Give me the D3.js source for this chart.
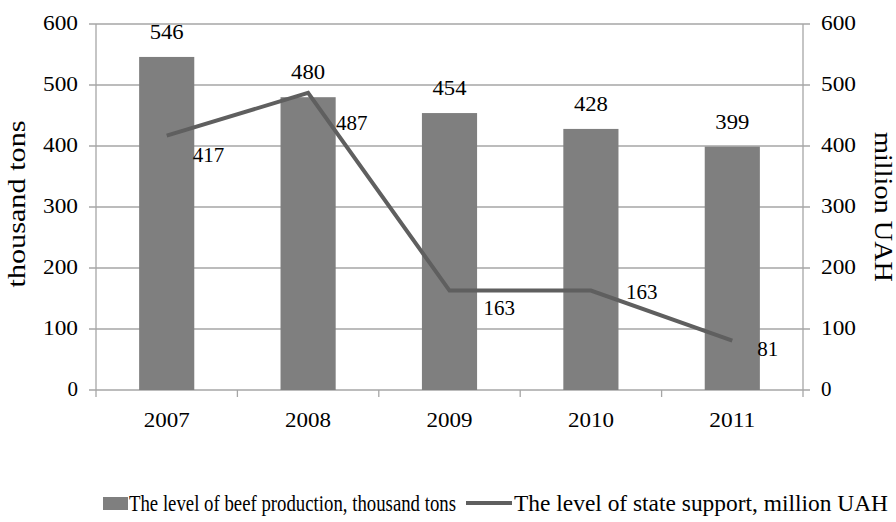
<!DOCTYPE html>
<html><head><meta charset="utf-8">
<script src="https://cdn.jsdelivr.net/npm/d3@7"></script>
<style>body{margin:0;background:#fff}svg{display:block}</style>
</head><body><svg id="c" width="896" height="522" style="font-family:'Liberation Serif','Times New Roman',Tinos,serif"></svg>
<script>
const years = ["2007","2008","2009","2010","2011"];
const production = [546, 480, 454, 428, 399];
const support = [417, 487, 163, 163, 81];
const leftTicks = [0,100,200,300,400,500,600];
const rightTicks = [0,100,200,300,400,500,600];
const seriesNames = ["The level of beef production, thousand tons","The level of state support, million UAH"];
const axisTitles = ["thousand tons","million UAH"];

const svg = d3.select("#c");
const FF = "'Liberation Serif','Times New Roman',Tinos,serif";
const L = 96, R = 803, T = 24, B = 390;
const x = d3.scaleBand().domain(years).range([L, R]).paddingInner(0.61).paddingOuter(0.305);
const xc = d3.scaleBand().domain(years).range([L, R]);
const yL = d3.scaleLinear().domain([0,600]).range([B, T]);
const yR = d3.scaleLinear().domain([0,600]).range([B, T]);
const grid = "#a6a6a6", FS = 21;
function txt(g){ return g.attr("font-family",FF).style("font-family",FF).attr("fill","#000"); }

svg.append("g").selectAll("line").data(leftTicks.filter(d=>d>0)).join("line")
  .attr("x1", L-7).attr("x2", R+7).attr("y1", d=>yL(d)).attr("y2", d=>yL(d))
  .attr("stroke", grid).attr("stroke-width", 1.3);
svg.append("line").attr("x1",L).attr("x2",L).attr("y1",T).attr("y2",B).attr("stroke",grid).attr("stroke-width",1.3);
svg.append("line").attr("x1",R).attr("x2",R).attr("y1",T).attr("y2",B).attr("stroke",grid).attr("stroke-width",1.3);
svg.append("line").attr("x1",L-7).attr("x2",R+7).attr("y1",B).attr("y2",B).attr("stroke",grid).attr("stroke-width",1.3);
svg.append("g").selectAll("line").data(years.concat(["end"])).join("line")
  .attr("x1",(d,i)=>L + i*xc.step()).attr("x2",(d,i)=>L + i*xc.step())
  .attr("y1",B).attr("y2",B+7).attr("stroke",grid).attr("stroke-width",1.3);

svg.append("g").selectAll("rect").data(production).join("rect")
  .attr("x",(d,i)=>x(years[i])).attr("width",x.bandwidth())
  .attr("y",d=>yL(d)).attr("height",d=>B-yL(d)).attr("fill","#7f7f7f");

const line = d3.line().x((d,i)=>xc(years[i])+xc.bandwidth()/2).y(d=>yR(d));
svg.append("path").datum(support).attr("d",line).attr("fill","none")
  .attr("stroke","#5f5f5f").attr("stroke-width",4);

txt(svg.append("g").selectAll("text").data(leftTicks).join("text"))
  .attr("x", L-18).attr("y", d=>yL(d)+6).attr("text-anchor","end").attr("font-size",FS)
  .attr("textLength",35).attr("lengthAdjust","spacingAndGlyphs")
  .each(function(d){ if(d===0) d3.select(this).attr("textLength",null); })
  .text(d=>d);
txt(svg.append("g").selectAll("text").data(rightTicks).join("text"))
  .attr("x", R+18).attr("y", d=>yR(d)+6).attr("text-anchor","start").attr("font-size",FS)
  .attr("textLength",35).attr("lengthAdjust","spacingAndGlyphs")
  .each(function(d){ if(d===0) d3.select(this).attr("textLength",null); })
  .text(d=>d);
txt(svg.append("g").selectAll("text").data(years).join("text"))
  .attr("x", d=>xc(d)+xc.bandwidth()/2).attr("y", B+37).attr("text-anchor","middle").attr("font-size",FS)
  .attr("textLength",46).attr("lengthAdjust","spacingAndGlyphs")
  .text(d=>d);

txt(svg.append("g").selectAll("text").data(production).join("text"))
  .attr("x",(d,i)=>x(years[i])+x.bandwidth()/2).attr("y",d=>yL(d)-18)
  .attr("text-anchor","middle").attr("font-size",FS)
  .attr("textLength",34).attr("lengthAdjust","spacingAndGlyphs").text(d=>d);

const lblDx = [26, 28, 34, 35, 25], lblDy = [26, 37, 24, 8, 15];
txt(svg.append("g").selectAll("text").data(support).join("text"))
  .attr("x",(d,i)=>xc(years[i])+xc.bandwidth()/2+lblDx[i]).attr("y",(d,i)=>yR(d)+lblDy[i])
  .attr("font-size",FS).text(d=>d);

txt(svg.append("text")).attr("transform","translate(25,204) rotate(-90)").attr("text-anchor","middle")
  .attr("font-size",25).attr("textLength",167).attr("lengthAdjust","spacingAndGlyphs").text(axisTitles[0]);
txt(svg.append("text")).attr("transform","translate(875,207) rotate(90)").attr("text-anchor","middle")
  .attr("font-size",25).attr("textLength",150).attr("lengthAdjust","spacingAndGlyphs").text(axisTitles[1]);

svg.append("rect").attr("x",103).attr("y",497).attr("width",25).attr("height",13).attr("fill","#7f7f7f");
txt(svg.append("text")).attr("x",129).attr("y",511).attr("font-size",23)
  .attr("textLength",327).attr("lengthAdjust","spacingAndGlyphs").text(seriesNames[0]);
svg.append("line").attr("x1",466).attr("x2",512).attr("y1",503).attr("y2",503).attr("stroke","#5f5f5f").attr("stroke-width",4);
txt(svg.append("text")).attr("x",514).attr("y",511).attr("font-size",23)
  .attr("textLength",374).attr("lengthAdjust","spacingAndGlyphs").text(seriesNames[1]);
</script></body></html>
